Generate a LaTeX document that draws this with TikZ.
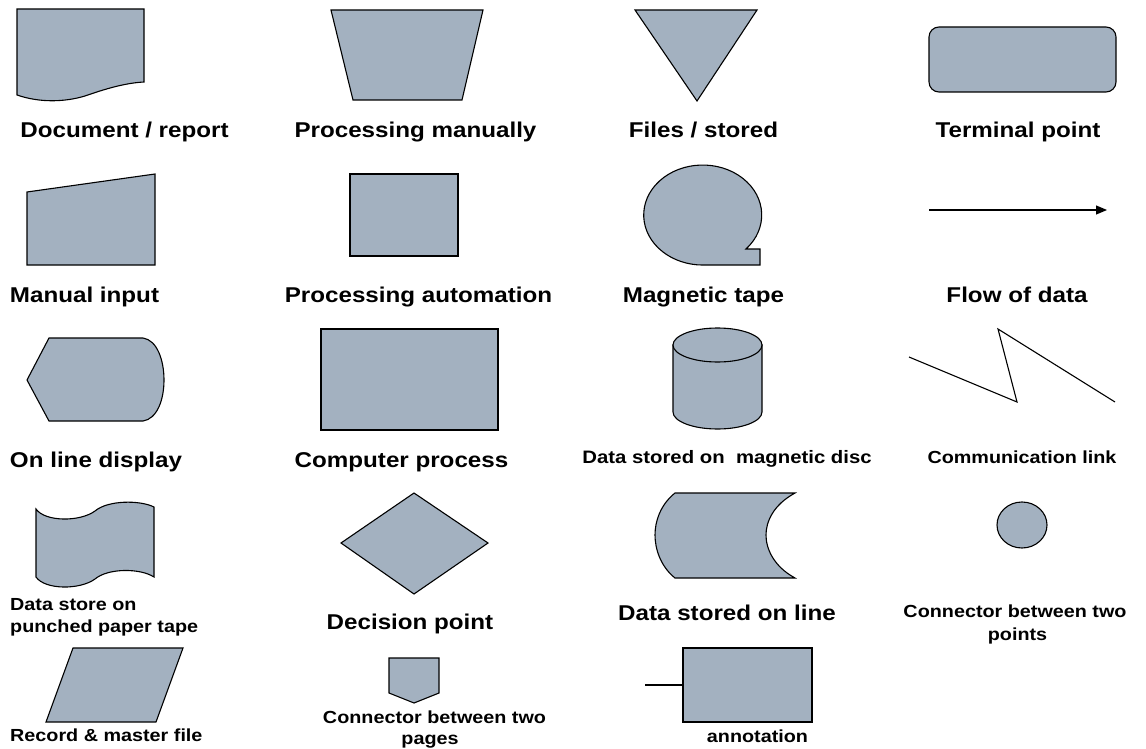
\documentclass[tikz,border=0pt]{standalone}
\usepackage{fontspec}
\usetikzlibrary{arrows.meta}
\newfontfamily\lblfont[FakeStretch=1.13]{Liberation Sans}
\definecolor{symfill}{HTML}{A3B1C0}
\tikzset{
  symbol/.style={draw=black, fill=symfill, line width=1.1pt, line join=miter},
  plainline/.style={draw=black, line width=1.1pt},
  biglbl/.style={font=\lblfont\bfseries\fontsize{21.4}{24}\selectfont, anchor=base, inner sep=0pt},
  smalllbl/.style={font=\lblfont\bfseries\fontsize{17.5}{21}\selectfont, anchor=base, inner sep=0pt},
  leftlbl/.style={smalllbl, anchor=base west},
}
\begin{document}
\begin{tikzpicture}[x=1pt, y=-1pt]
\useasboundingbox (0,0) rectangle (1146,749);

% ---- row 1 ----
% document / report
\path[symbol] (17,9) -- (144,9) -- (144,82)
  .. controls (125,83) and (105,89) .. (85,96)
  .. controls (65,102) and (40,103) .. (17,95) -- cycle;
\node[biglbl] (docLbl) at (124.5,138) {Document / report};

% processing manually
\path[symbol] (331,10) -- (483,10) -- (462,100) -- (353,100) -- cycle;
\node[biglbl] (manLbl) at (415.5,138) {Processing manually};

% files / stored
\path[symbol] (635,10) -- (757,10) -- (697,101) -- cycle;
\node[biglbl] (fileLbl) at (703.5,138) {Files / stored};

% terminal point
\node[symbol, rounded corners=10pt, minimum width=187pt, minimum height=65pt, inner sep=0pt]
  (terminal) at (1022.5,59.5) {};
\node[biglbl] (termLbl) at (1018,138) {Terminal point};

% ---- row 2 ----
% manual input
\path[symbol] (27,192) -- (155,174) -- (155,265) -- (27,265) -- cycle;
\node[biglbl] (inLbl) at (84.5,302) {Manual input};

% processing automation
\node[symbol, minimum width=108pt, minimum height=82pt, inner sep=0pt]
  (auto) at (404,215) {};
\node[biglbl] (autoLbl) at (418.5,302) {Processing automation};

% magnetic tape
\path[symbol] (703,265) -- (760,265) -- (760,249) -- (746,249)
  arc[start angle=42.8, end angle=-270, x radius=59, y radius=50] -- cycle;
\node[biglbl] (tapeLbl) at (703.5,302) {Magnetic tape};

% flow of data
\coordinate (flowA) at (929,210);
\coordinate (flowB) at (1107,210);
\draw[plainline, -{Triangle[length=11pt, width=9pt]}] (flowA) -- (flowB);
\node[biglbl] (flowLbl) at (1017,302) {Flow of data};

% ---- row 3 ----
% on line display
\path[symbol] (27,380) -- (49,338) -- (143,338)
  .. controls (157,340) and (164,360) .. (164,380)
  .. controls (164,400) and (157,419) .. (143,421)
  -- (49,421) -- cycle;
\node[biglbl] (dispLbl) at (96,467) {On line display};

% computer process
\node[symbol, minimum width=177pt, minimum height=101pt, inner sep=0pt]
  (comp) at (409.5,379.5) {};
\node[biglbl] (compLbl) at (401.5,467) {Computer process};

% magnetic disc
\path[symbol] (673,345) -- (673,412)
  arc[start angle=180, end angle=0, x radius=44.5, y radius=17]
  -- (762,345) -- cycle;
\path[symbol] (717.5,345) ellipse[x radius=44.5, y radius=17];
\node[smalllbl, font=\lblfont\bfseries\fontsize{18}{21}\selectfont] (discLbl) at (727,463.5) {Data stored on\ \ magnetic disc};

% communication link
\coordinate (linkA) at (909,357);
\coordinate (linkB) at (1017,402);
\coordinate (linkC) at (998,329);
\coordinate (linkD) at (1115,402);
\draw[plainline, line join=miter] (linkA) -- (linkB) -- (linkC) -- (linkD);
\node[smalllbl] (linkLbl) at (1022,463.5) {Communication link};

% ---- row 4 ----
% punched paper tape
\path[symbol] (36,509)
  .. controls (45,522) and (80,522) .. (95,511)
  .. controls (108,500) and (140,500) .. (154,507)
  -- (154,577)
  .. controls (140,568) and (108,568) .. (95,579)
  .. controls (80,590) and (45,590) .. (36,577) -- cycle;
\node[leftlbl] (tapeLblA) at (10,610) {Data store on};
\node[leftlbl] (tapeLblB) at (10,632) {punched paper tape};

% decision point
\path[symbol] (341,543) -- (414,493) -- (488,543) -- (414,594) -- cycle;
\node[biglbl] (decLbl) at (410,629) {Decision point};

% data stored on line
\path[symbol] (675,493) -- (795,493)
  .. controls (773,505) and (766,522) .. (766,535)
  .. controls (766,548) and (773,566) .. (795,578)
  -- (675,578)
  .. controls (660,566) and (655,548) .. (655,535)
  .. controls (655,522) and (660,505) .. (675,493) -- cycle;
\node[biglbl] (lineLbl) at (727,620.5) {Data stored on line};

% connector between two points
\path[symbol] (1022,525) ellipse[x radius=25, y radius=23];
\node[smalllbl] (ptLblA) at (1015,617.5) {Connector between two};
\node[smalllbl] (ptLblB) at (1017.5,640.5) {points};

% ---- row 5 ----
% record & master file
\path[symbol] (73,648) -- (183,648) -- (156,722) -- (46,722) -- cycle;
\node[leftlbl] (recLbl) at (10,741) {Record \& master file};

% connector between two pages
\path[symbol] (389,658) -- (439,658) -- (439,693) -- (414,703) -- (389,693) -- cycle;
\node[smalllbl] (pgLblA) at (434.5,723.5) {Connector between two};
\node[smalllbl] (pgLblB) at (430,744) {pages};

% annotation
\node[symbol, minimum width=129pt, minimum height=74pt, inner sep=0pt]
  (annot) at (747.5,685) {};
\coordinate (annotEnd) at (645,685);
\draw[plainline] (annotEnd) -- (annot.west);
\node[smalllbl] (annotLbl) at (757.5,742) {annotation};
\end{tikzpicture}
\end{document}
